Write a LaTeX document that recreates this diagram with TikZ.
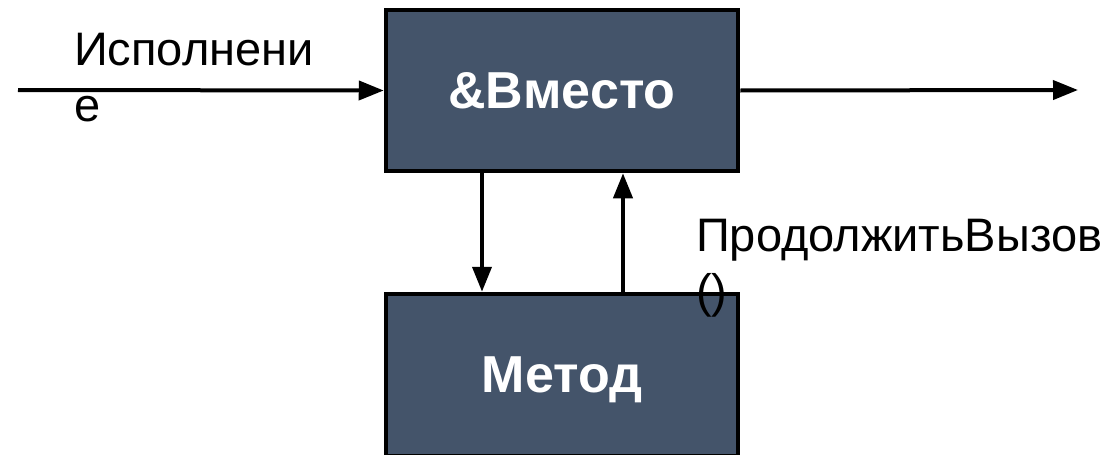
\documentclass[tikz,border=0pt]{standalone}
\usepackage{fontspec}
\setmainfont{Liberation Sans}
\usetikzlibrary{arrows.meta}
\definecolor{boxfill}{HTML}{44546A}
\begin{document}
\begin{tikzpicture}[x=1pt,y=-1pt,
  block/.style={draw=black,line width=4.5pt,fill=boxfill,minimum width=352pt,minimum height=161pt,inner sep=0pt,
    text=white,font=\fontsize{52}{60}\selectfont\bfseries,text depth=0pt},
  conn/.style={line width=4pt,-{Triangle[length=25pt,width=19pt]}},
  lbl/.style={inner sep=0pt,align=left,font=\fontsize{47}{56}\selectfont}]
\useasboundingbox (0,0) rectangle (1117,455);
\node[block] (top) at (562,90.5) {\&Вместо};
\node[block,minimum height=162pt] (bot) at (562,375) {Метод};
\coordinate (inL) at (18,90);
\coordinate (outR) at (1078,90);
\coordinate (dn) at (482,0);
\coordinate (up) at (623,0);
\draw[conn] (inL) -- (top.west);
\draw[conn] (top.east) -- (outR);
\draw[conn] (top.south -| dn) -- (bot.north -| dn);
\draw[conn] (bot.north -| up) -- (top.south -| up);
\node[lbl,anchor=base west] (exec) at (74,121) {Исполнени\\е};
\node[lbl,anchor=base west] (proceed) at (696,307) {ПродолжитьВызов\\()};
\end{tikzpicture}
\end{document}
